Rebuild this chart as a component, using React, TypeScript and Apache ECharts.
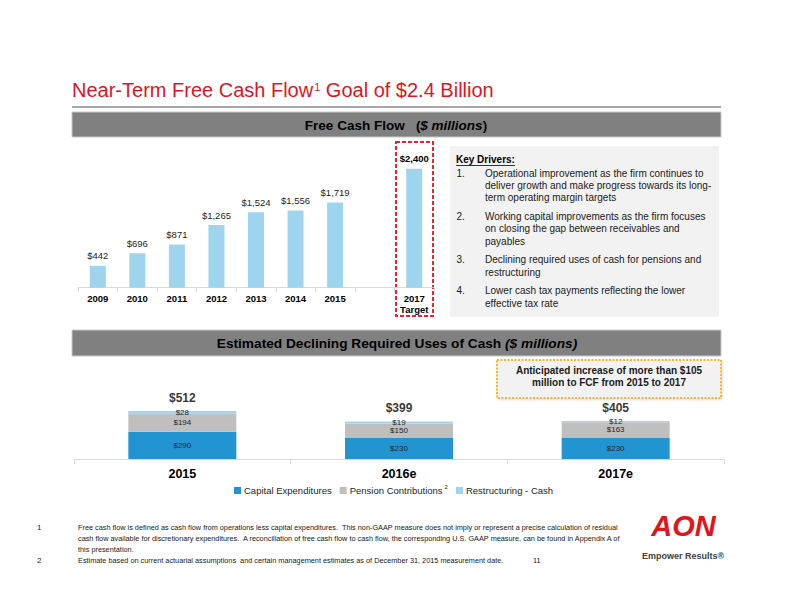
import React, { useEffect, useRef } from "react";
import * as echarts from "echarts";

const fcfYears = ["2009", "2010", "2011", "2012", "2013", "2014", "2015", "", "2017\nTarget"];
const fcfValues: (number | string)[] = [442, 696, 871, 1265, 1524, 1556, 1719, "-", 2400];

const useCategories = ["2015", "2016e", "2017e"];
const capitalExpenditures = [290, 230, 230];
const pensionContributions = [194, 150, 163];
const restructuringCash = [28, 19, 12];
const totalUses = [512, 399, 405];

const seriesNames = ["Capital Expenditures", "Pension Contributions", "Restructuring - Cash"];

const keyDrivers = [
  ["Operational improvement as the firm continues to", "deliver growth and make progress towards its long-", "term operating margin targets"],
  ["Working capital improvements as the firm focuses", "on closing the gap between receivables and", "payables"],
  ["Declining required uses of cash for pensions and", "restructuring"],
  ["Lower cash tax payments reflecting the lower", "effective tax rate"],
];

const footnotes = [
  {
    num: "1",
    lines: [
      "Free cash flow is defined as cash flow from operations less capital expenditures.  This non-GAAP measure does not imply or represent a precise calculation of residual",
      "cash flow available for discretionary expenditures.  A reconciliation of free cash flow to cash flow, the corresponding U.S. GAAP measure, can be found in Appendix A of",
      "this presentation.",
    ],
  },
  {
    num: "2",
    lines: ["Estimate based on current actuarial assumptions  and certain management estimates as of December 31, 2015 measurement date."],
  },
];

const FONT = "'Liberation Sans', Arial, sans-serif";

const fmt = (v: number) => "$" + Number(v).toLocaleString("en-US");

export default function App() {
  const ref = useRef<HTMLDivElement>(null);

  useEffect(() => {
    if (!ref.current) return;
    const chart = echarts.init(ref.current, undefined, { renderer: "svg" });

    const graphic: any[] = [];
    // Title
    graphic.push({
      type: "text",
      x: 72,
      y: 90,
      style: {
        text: "{a|Near-Term Free Cash Flow}{s|1}{a| Goal of $2.4 Billion}",
        textVerticalAlign: "middle",
        rich: {
          a: { fontSize: 20, fontFamily: FONT, fill: "#e3141d", color: "#e3141d", lineHeight: 24 },
          s: { fontSize: 11, fontFamily: FONT, fill: "#e3141d", color: "#e3141d", verticalAlign: "top", lineHeight: 14, padding: [3, 0, 0, 1] },
        },
      },
    });
    graphic.push({ type: "rect", shape: { x: 72, y: 106, width: 649, height: 2 }, style: { fill: "#a6a6a6" } });
    // Header 1
    graphic.push({ type: "rect", shape: { x: 72, y: 112, width: 649, height: 25 }, style: { fill: "#808080", stroke: "#c8c8c8", lineWidth: 1 } });
    graphic.push({
      type: "text",
      x: 396,
      y: 125,
      style: {
        text: "{b|Free Cash Flow   (}{i|$ millions}{b|)}",
        textAlign: "center",
        textVerticalAlign: "middle",
        rich: {
          b: { fontSize: 13.5, fontWeight: "bold", fontFamily: FONT, color: "#fff" },
          i: { fontSize: 13.5, fontWeight: "bold", fontStyle: "italic", fontFamily: FONT, color: "#fff" },
        },
      },
    });
    // Dashed target box
    graphic.push({
      type: "rect",
      shape: { x: 396, y: 142, width: 37, height: 174 },
      style: { fill: "none", stroke: "#e8262a", lineWidth: 2, lineDash: [4, 2] },
    });
    // Key drivers box
    graphic.push({ type: "rect", shape: { x: 450, y: 146, width: 269, height: 171 }, style: { fill: "#f2f2f2" } });
    graphic.push({
      type: "text",
      x: 456,
      y: 159.5,
      style: { text: "Key Drivers:", fontSize: 10, fontWeight: "bold", fontFamily: FONT, fill: "#000", textVerticalAlign: "middle" },
    });
    graphic.push({ type: "line", shape: { x1: 456, y1: 165.5, x2: 515, y2: 165.5 }, style: { stroke: "#000", lineWidth: 0.8 } });
    let y = 173.5;
    keyDrivers.forEach((item, idx) => {
      graphic.push({
        type: "text",
        x: 456.5,
        y,
        style: { text: idx + 1 + ".", fontSize: 10, fontFamily: FONT, fill: "#1a1a1a", textVerticalAlign: "middle" },
      });
      item.forEach((line, li) => {
        graphic.push({
          type: "text",
          x: 485,
          y,
          style: { text: line, fontSize: 10, fontFamily: FONT, fill: "#1a1a1a", textVerticalAlign: "middle" },
        });
        y += li === item.length - 1 ? 18.8 : 12.2;
      });
    });
    // Header 2
    graphic.push({ type: "rect", shape: { x: 72, y: 330, width: 649, height: 26 }, style: { fill: "#808080", stroke: "#c8c8c8", lineWidth: 1 } });
    graphic.push({
      type: "text",
      x: 397,
      y: 343,
      style: {
        text: "{b|Estimated Declining Required Uses of Cash }{i|($ millions)}",
        textAlign: "center",
        textVerticalAlign: "middle",
        rich: {
          b: { fontSize: 13.7, fontWeight: "bold", fontFamily: FONT, color: "#fff" },
          i: { fontSize: 13.7, fontWeight: "bold", fontStyle: "italic", fontFamily: FONT, color: "#fff" },
        },
      },
    });
    // Callout box
    graphic.push({
      type: "rect",
      shape: { x: 497, y: 360, width: 224, height: 38 },
      style: { fill: "#f2f2f2", stroke: "#f5b632", lineWidth: 2, lineDash: [2, 1.5], shadowBlur: 3, shadowColor: "rgba(0,0,0,0.15)", shadowOffsetX: 1, shadowOffsetY: 1 },
    });
    graphic.push({
      type: "text",
      x: 609,
      y: 370,
      style: { text: "Anticipated increase of more than $105", fontSize: 10, fontWeight: "bold", fontFamily: FONT, fill: "#1a1a1a", textAlign: "center", textVerticalAlign: "middle" },
    });
    graphic.push({
      type: "text",
      x: 609,
      y: 382.5,
      style: { text: "million to FCF from 2015 to 2017", fontSize: 10, fontWeight: "bold", fontFamily: FONT, fill: "#1a1a1a", textAlign: "center", textVerticalAlign: "middle" },
    });
    // Footnotes
    let fy = 527;
    footnotes.forEach((fn) => {
      graphic.push({
        type: "text",
        x: 37,
        y: fy,
        style: { text: fn.num, fontSize: 8, fontFamily: FONT, fill: "#1a1a1a", textVerticalAlign: "middle" },
      });
      fn.lines.forEach((line) => {
        graphic.push({
          type: "text",
          x: 78,
          y: fy,
          scaleX: 0.915,
          style: { text: line, fontSize: 8, fontFamily: FONT, fill: "#1a1a1a", textVerticalAlign: "middle" },
        });
        fy += 11;
      });
    });
    graphic.push({
      type: "text",
      x: 533,
      y: 560,
      scaleX: 0.915,
      style: { text: "11", fontSize: 8, fontFamily: FONT, fill: "#1a1a1a", textVerticalAlign: "middle" },
    });
    // Logo
    graphic.push({
      type: "text",
      x: 683.5,
      y: 526,
      style: { text: "AON", fontSize: 29, fontWeight: "bold", fontStyle: "italic", fontFamily: FONT, fill: "#e3141d", textAlign: "center", textVerticalAlign: "middle" },
    });
    graphic.push({
      type: "text",
      x: 683,
      y: 556,
      style: { text: "Empower Results®", fontSize: 9, fontWeight: "bold", fontFamily: FONT, fill: "#404040", textAlign: "center", textVerticalAlign: "middle" },
    });

    const option: any = {
      animation: false,
      backgroundColor: "#ffffff",
      textStyle: { fontFamily: FONT },
      grid: [
        { left: 78, right: 358, top: 149, bottom: 324.3 },
        { left: 74, right: 68, top: 399, bottom: 153 },
      ],
      xAxis: [
        {
          type: "category",
          gridIndex: 0,
          data: fcfYears,
          axisLine: { lineStyle: { color: "#d9d9d9", width: 1 } },
          axisTick: { show: true, length: 4, lineStyle: { color: "#d9d9d9" } },
          axisLabel: { fontSize: 9.5, fontWeight: "bold", color: "#000", margin: 5, lineHeight: 11, interval: 0 },
        },
        {
          type: "category",
          gridIndex: 1,
          data: useCategories,
          axisLine: { lineStyle: { color: "#d9d9d9", width: 1 } },
          axisTick: { show: true, length: 5, lineStyle: { color: "#d9d9d9" } },
          axisLabel: { fontSize: 12.5, fontWeight: "bold", color: "#000", margin: 8, interval: 0 },
        },
      ],
      yAxis: [
        { type: "value", gridIndex: 0, min: 0, max: 2800, show: false },
        { type: "value", gridIndex: 1, min: 0, max: 640, show: false },
      ],
      legend: {
        data: seriesNames,
        left: 229,
        top: 479,
        itemWidth: 7,
        itemHeight: 7,
        itemGap: 8,
        icon: "rect",
        formatter: (name: string) => (name === "Pension Contributions" ? "Pension Contributions{sup|2}" : name),
        textStyle: {
          fontSize: 9.5,
          color: "#262626",
          fontFamily: FONT,
          padding: [0, 0, 0, -2],
          rich: { sup: { fontSize: 6, verticalAlign: "top", padding: [0, 0, 7, 2], color: "#262626" } },
        },
      },
      series: [
        {
          type: "bar",
          xAxisIndex: 0,
          yAxisIndex: 0,
          data: fcfValues.map((v, i) =>
            i === fcfValues.length - 1 ? { value: v, label: { fontWeight: "bold", color: "#000" } } : v
          ),
          barWidth: 16,
          itemStyle: { color: "#9fd4ef" },
          label: {
            show: true,
            position: "top",
            distance: 5,
            fontSize: 9.5,
            color: "#262626",
            formatter: (p: any) => fmt(p.value),
          },
        },
        {
          name: seriesNames[0],
          type: "bar",
          stack: "uses",
          xAxisIndex: 1,
          yAxisIndex: 1,
          data: capitalExpenditures,
          barWidth: 108,
          itemStyle: { color: "#2294d2" },
          label: { show: true, position: "inside", fontSize: 8, color: "#262626", formatter: (p: any) => fmt(p.value) },
        },
        {
          name: seriesNames[1],
          type: "bar",
          stack: "uses",
          xAxisIndex: 1,
          yAxisIndex: 1,
          data: pensionContributions,
          barWidth: 108,
          itemStyle: { color: "#bfbfbf" },
          label: { show: true, position: "inside", fontSize: 8, color: "#262626", formatter: (p: any) => fmt(p.value) },
        },
        {
          name: seriesNames[2],
          type: "bar",
          stack: "uses",
          xAxisIndex: 1,
          yAxisIndex: 1,
          data: restructuringCash,
          barWidth: 108,
          itemStyle: { color: "#9fd4ef" },
          label: { show: true, position: "inside", fontSize: 8, color: "#262626", formatter: (p: any) => fmt(p.value) },
        },
        {
          name: "Total",
          type: "scatter",
          xAxisIndex: 1,
          yAxisIndex: 1,
          data: totalUses,
          symbolSize: 1,
          itemStyle: { color: "rgba(0,0,0,0)" },
          silent: true,
          label: { show: true, position: "top", distance: 7, fontSize: 12, fontWeight: "bold", color: "#000", formatter: (p: any) => fmt(p.value) },
        },
      ],
      graphic,
    };

    chart.setOption(option);
    return () => chart.dispose();
  }, []);

  return (
    <div
      ref={ref}
      style={{ position: "fixed", left: 0, top: 0, width: 792, height: 612, background: "#fff" }}
    />
  );
}
